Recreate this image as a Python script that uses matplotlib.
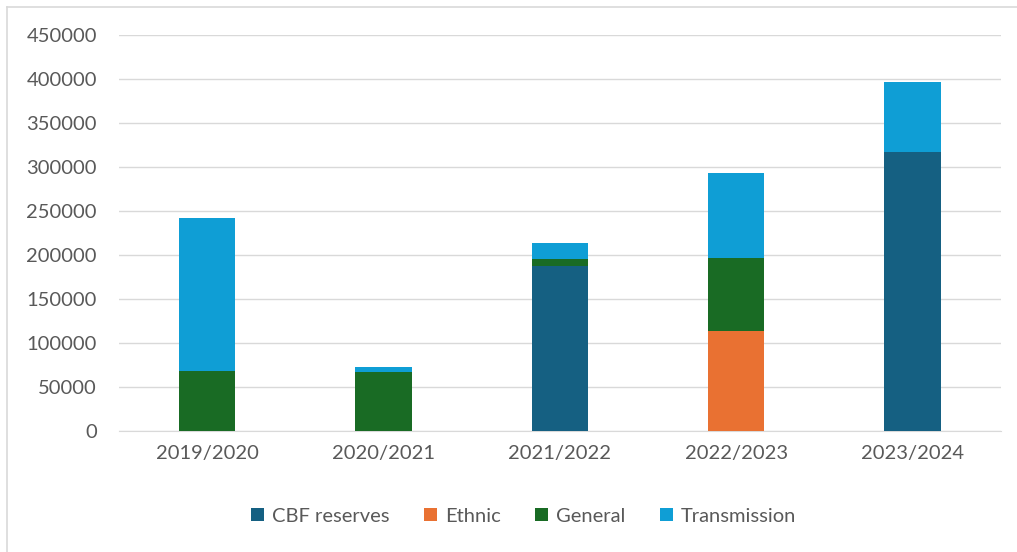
import numpy as np
import matplotlib.pyplot as plt
from matplotlib.lines import Line2D

plt.rcParams['font.family'] = ['Lato', 'DejaVu Sans']

years = ['2019/2020', '2020/2021', '2021/2022', '2022/2023', '2023/2024']
cbf_reserves = [0, 0, 188000, 0, 317000]
ethnic = [0, 0, 0, 114000, 0]
general = [68000, 67000, 7000, 82000, 0]
transmission = [174000, 6000, 19000, 97000, 79000]

series = [
    ('CBF reserves', cbf_reserves, '#156082'),
    ('Ethnic', ethnic, '#E97132'),
    ('General', general, '#196B24'),
    ('Transmission', transmission, '#0F9ED5'),
]

W, H = 1017, 552
fig = plt.figure(figsize=(W / 100, H / 100), dpi=100)
ax = fig.add_axes([0.117, 0.219, 0.867, 0.718])

x = np.arange(len(years))
bottom = np.zeros(len(years))
for name, vals, color in series:
    vals = np.array(vals, dtype=float)
    ax.bar(x, vals, 0.32, bottom=bottom, color=color, label=name, zorder=3)
    bottom += vals

ax.set_ylim(0, 450000)
ax.set_xlim(-0.5, len(years) - 0.5)
ax.set_yticks(np.arange(0, 450001, 50000))
ax.set_yticklabels([str(v) for v in range(0, 450001, 50000)])
ax.set_xticks(x)
ax.set_xticklabels(years)
ax.grid(axis='y', color='#D9D9D9', linewidth=1, zorder=0)
for s in ['top', 'right', 'left']:
    ax.spines[s].set_visible(False)
ax.spines['bottom'].set_color('#D9D9D9')
ax.tick_params(axis='both', length=0, labelsize=14.5, labelcolor='#595959')
ax.tick_params(axis='y', pad=16)
ax.tick_params(axis='x', pad=10)

fig.legend(loc='center', bbox_to_anchor=(0.515, 0.065), ncol=4, frameon=False,
           fontsize=14.5, labelcolor='#595959', handlelength=0.65, handleheight=0.65,
           handletextpad=0.4, columnspacing=1.7)

# chart frame: only the left and top edges fall inside the image
fx, fy = 6.5 / W, 1 - 6.5 / H
fig.lines.append(Line2D([fx, fx], [0, fy], transform=fig.transFigure,
                        color='#D9D9D9', linewidth=1.2))
fig.lines.append(Line2D([fx, 1], [fy, fy], transform=fig.transFigure,
                        color='#D9D9D9', linewidth=1.2))

fig.savefig('out.png', dpi=100)
